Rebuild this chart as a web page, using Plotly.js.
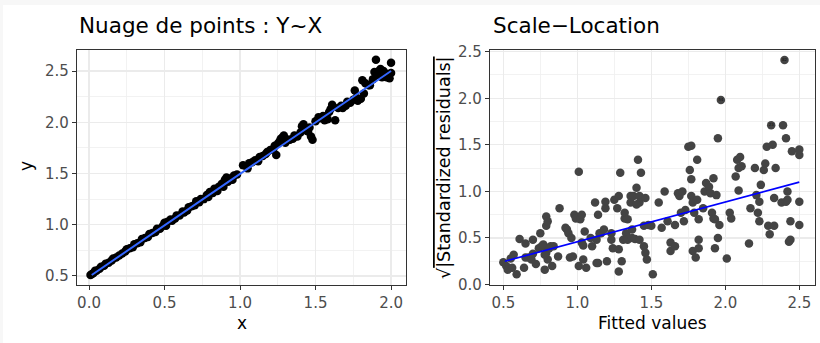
<!DOCTYPE html>
<html>
<head>
<meta charset="utf-8">
<script src="https://cdn.plot.ly/plotly-3.0.1.min.js"></script>
<style>
html,body{margin:0;padding:0;background:#f7f7f7;width:820px;height:343px;overflow:hidden;}
#chart{position:absolute;left:3px;top:5px;width:817px;height:338px;background:#fff;}
</style>
</head>
<body>
<div id="chart"></div>
<script>
// ---- Left panel: scatter Y~X ----
const xVals = [0.01,0.02,0.03,0.04,0.05,0.07,0.08,0.10,0.11,0.13,0.15,0.16,0.18,0.20,0.22,0.24,0.25,0.27,0.29,0.30,0.32,0.34,0.35,0.37,0.39,0.40,0.42,0.44,0.45,0.47,0.49,
0.50,0.51,0.52,0.54,0.55,0.57,0.58,0.60,0.62,0.63,0.65,0.66,0.68,0.70,0.71,0.73,0.74,0.76,0.78,0.79,0.80,0.82,0.83,0.85,0.86,0.88,0.89,0.90,0.91,0.92,0.93,0.95,0.96,0.98,
1.02,1.05,1.06,1.08,1.10,1.12,1.13,1.15,1.17,1.18,1.20,1.22,1.23,1.24,1.25,1.26,1.27,1.28,1.29,1.30,1.32,1.33,1.35,1.36,1.38,1.40,1.41,1.42,1.43,1.44,1.45,1.46,1.47,1.48,
1.50,1.52,1.53,1.55,1.56,1.58,1.59,1.60,1.61,1.63,1.65,1.67,1.68,1.70,1.71,1.73,1.75,1.76,1.77,1.78,1.80,1.81,1.82,1.83,1.85,1.86,1.88,1.89,1.90,1.91,1.92,1.93,1.94,1.95,1.97,1.98,1.99,2.00,2.00];
const yVals = [0.51,0.52,0.53,0.55,0.55,0.57,0.59,0.60,0.62,0.63,0.65,0.67,0.68,0.70,0.72,0.74,0.76,0.77,0.78,0.81,0.82,0.83,0.86,0.87,0.88,0.91,0.92,0.93,0.96,0.96,0.99,
1.02,0.99,1.03,1.05,1.04,1.06,1.09,1.09,1.13,1.12,1.14,1.17,1.18,1.19,1.23,1.22,1.25,1.25,1.29,1.27,1.32,1.31,1.35,1.33,1.37,1.40,1.37,1.44,1.46,1.42,1.45,1.44,1.48,1.49,
1.58,1.55,1.60,1.61,1.63,1.62,1.66,1.67,1.69,1.71,1.73,1.74,1.77,1.68,1.79,1.81,1.84,1.85,1.87,1.80,1.83,1.83,1.84,1.87,1.86,1.90,1.96,1.98,1.94,1.92,1.91,1.95,1.86,1.83,
2.01,2.05,2.04,2.06,2.02,2.03,2.10,2.13,2.17,2.02,2.14,2.16,2.14,2.16,2.20,2.19,2.22,2.31,2.24,2.21,2.23,2.41,2.28,2.38,2.36,2.36,2.42,2.49,2.61,2.46,2.50,2.52,2.44,2.50,2.44,2.47,2.43,2.58,2.48];
const fitLineX = [0.018, 2.0];
const fitLineY = [0.51, 2.50];

// ---- Right panel: Scale-Location ----
const fittedVals = [0.50,0.52,0.53,0.56,0.57,0.59,0.55,0.61,0.65,0.64,0.65,0.67,0.69,0.70,0.70,0.72,0.74,0.75,0.76,0.77,0.79,0.79,0.80,0.78,0.79,0.80,0.82,0.83,0.84,0.87,0.88,0.81,0.78,
0.92,0.93,0.94,0.95,0.97,0.96,0.98,1.01,0.99,1.02,1.03,1.01,1.03,1.04,1.05,1.04,1.06,1.09,1.10,1.12,1.13,1.13,1.14,1.14,1.15,1.16,1.18,1.19,1.19,1.20,1.23,1.23,1.24,1.25,1.27,1.28,1.28,1.29,1.28,1.30,1.31,1.32,1.32,1.33,1.34,1.34,1.36,1.36,1.37,1.38,1.39,1.40,1.41,1.42,1.42,1.43,1.42,1.45,1.46,1.47,1.46,1.45,1.48,1.50,1.51,1.40,1.37,
1.55,1.57,1.59,1.61,1.63,1.63,1.66,1.66,1.68,1.69,1.70,1.71,1.72,1.73,1.75,1.76,1.77,1.77,1.77,1.78,1.78,1.79,1.80,1.81,1.81,1.82,1.82,1.82,1.85,1.86,1.87,1.89,1.90,
1.91,1.92,1.92,1.93,1.93,1.94,1.95,1.95,1.96,1.97,2.01,2.03,2.04,2.07,2.08,2.09,2.09,2.10,2.11,2.16,2.17,2.20,2.21,2.22,2.23,2.23,2.24,2.26,2.27,2.28,2.29,2.30,2.31,2.32,2.33,2.34,2.33,2.39,2.38,2.40,2.41,2.41,2.42,2.42,2.43,2.44,2.44,2.45,2.50,2.50,2.50,2.50];
const sqrtStdResid = [0.24,0.20,0.16,0.18,0.32,0.11,0.28,0.49,0.44,0.18,0.29,0.29,0.27,0.48,0.33,0.22,0.39,0.55,0.41,0.43,0.63,0.73,0.68,0.16,0.34,0.27,0.41,0.20,0.41,0.30,0.82,0.39,0.32,
0.61,0.59,0.55,0.29,0.30,0.50,0.75,1.21,0.71,0.70,0.75,0.20,0.45,0.27,0.57,0.42,0.18,0.50,0.41,0.88,0.48,0.23,0.23,0.75,0.55,0.55,0.59,0.82,0.89,0.25,0.55,0.48,0.39,0.91,0.82,0.95,0.14,1.20,0.38,0.25,0.48,0.71,0.77,0.55,0.70,0.48,0.95,0.88,0.50,0.95,0.49,1.04,1.34,0.95,0.88,1.20,0.48,0.41,0.34,0.27,0.93,0.63,0.64,0.63,0.11,0.86,0.59,
0.88,0.61,1.00,0.68,0.36,0.45,0.41,0.64,0.98,0.95,0.77,1.00,0.68,0.80,1.48,1.23,1.13,1.49,0.95,0.88,0.36,0.77,0.29,1.34,0.91,0.70,0.48,0.39,0.82,1.00,1.09,1.05,0.98,
0.77,0.71,1.14,0.39,0.70,0.96,0.50,1.57,0.64,1.98,0.28,0.77,0.71,1.16,1.34,1.01,1.25,1.37,1.27,0.44,0.82,1.25,0.96,0.77,0.68,0.89,1.07,1.23,1.30,1.48,0.63,0.54,1.71,1.50,0.63,1.25,0.93,1.71,0.88,2.41,1.57,0.89,1.00,0.91,0.46,0.48,0.68,1.43,0.64,1.39,1.45,0.89];
const smoothX = [0.51, 2.50];
const smoothY = [0.25, 1.10];
const labelX = [1.97, 2.31, 2.40];
const labelY = [1.98, 1.71, 2.41];
const labelText = ["54", "23", "82"];

const FONT = "DejaVu Sans, Liberation Sans, Arial, sans-serif";

const traces = [
  {x: xVals, y: yVals, type: 'scatter', mode: 'markers', xaxis: 'x', yaxis: 'y',
   marker: {color: '#000000', size: 8.5}, hoverinfo: 'skip'},
  {x: fitLineX, y: fitLineY, type: 'scatter', mode: 'lines', xaxis: 'x', yaxis: 'y',
   line: {color: '#3366FF', width: 2}, hoverinfo: 'skip'},
  {x: fittedVals, y: sqrtStdResid, type: 'scatter', mode: 'markers', xaxis: 'x2', yaxis: 'y2',
   marker: {color: '#444444', size: 8.5}, hoverinfo: 'skip'},
  {x: smoothX, y: smoothY, type: 'scatter', mode: 'lines', xaxis: 'x2', yaxis: 'y2',
   line: {color: '#0000FF', width: 1.7}, hoverinfo: 'skip'},
  {x: labelX, y: labelY, text: labelText, type: 'scatter', mode: 'text', xaxis: 'x2', yaxis: 'y2',
   textfont: {size: 4, color: '#111111', family: FONT}, textposition: 'middle center', hoverinfo: 'skip'}
];

function axisBase(extra) {
  return Object.assign({
    showline: true, mirror: true, linecolor: '#333333', linewidth: 1.1,
    ticks: 'outside', ticklen: 4, tickwidth: 1, tickcolor: '#333333',
    showgrid: true, gridcolor: '#EBEBEB', gridwidth: 1.3,
    zeroline: false, tickformat: '.1f',
    tickfont: {family: FONT, size: 15, color: '#4D4D4D'},
    minor: {showgrid: true, gridcolor: '#EFEFEF', gridwidth: 0.8, dtick: 0.25},
    fixedrange: true
  }, extra);
}

const W = 817, H = 338, OX = 3, OY = 5;
const px = v => (v - OX) / W;
const py = v => (H - (v - OY)) / H;

const layout = {
  width: W, height: H,
  margin: {l: 0, r: 0, t: 0, b: 0},
  paper_bgcolor: '#ffffff', plot_bgcolor: '#ffffff',
  showlegend: false,
  font: {family: FONT},
  xaxis: axisBase({domain: [px(77), px(406)], range: [-0.0795, 2.099], tick0: 0, dtick: 0.5, anchor: 'y'}),
  yaxis: axisBase({domain: [py(285), py(50)], range: [0.412, 2.705], tick0: 0.5, dtick: 0.5, anchor: 'x'}),
  xaxis2: axisBase({domain: [px(490), px(815)], range: [0.41, 2.606], tick0: 0.5, dtick: 0.5, anchor: 'y2'}),
  yaxis2: axisBase({domain: [py(285), py(50)], range: [-0.005, 2.518], tick0: 0, dtick: 0.5, anchor: 'x2'}),
  annotations: [
    {text: 'Nuage de points : Y~X', xref: 'paper', yref: 'paper', x: px(77), y: py(26),
     xanchor: 'left', yanchor: 'middle', showarrow: false, font: {size: 21.5, color: '#000000', family: FONT}},
    {text: 'Scale\u2212Location', xref: 'paper', yref: 'paper', x: px(491), y: py(26),
     xanchor: 'left', yanchor: 'middle', showarrow: false, font: {size: 21.5, color: '#000000', family: FONT}},
    {text: 'x', xref: 'paper', yref: 'paper', x: px(241.5), y: py(323),
     xanchor: 'center', yanchor: 'middle', showarrow: false, font: {size: 17, color: '#000000', family: FONT}},
    {text: 'Fitted values', xref: 'paper', yref: 'paper', x: px(652.5), y: py(323),
     xanchor: 'center', yanchor: 'middle', showarrow: false, font: {size: 17, color: '#000000', family: FONT}},
    {text: 'y', xref: 'paper', yref: 'paper', x: px(26), y: py(166),
     xanchor: 'center', yanchor: 'middle', textangle: -90, showarrow: false, font: {size: 17, color: '#000000', family: FONT}},
    {text: '\u221A<span style="text-decoration:overline">|Standardized residuals|</span>', xref: 'paper', yref: 'paper', x: px(444), y: py(168),
     xanchor: 'center', yanchor: 'middle', textangle: -90, showarrow: false, font: {size: 17.5, color: '#000000', family: FONT}}
  ]
};

Plotly.newPlot('chart', traces, layout, {displayModeBar: false, staticPlot: true});
</script>
</body>
</html>
